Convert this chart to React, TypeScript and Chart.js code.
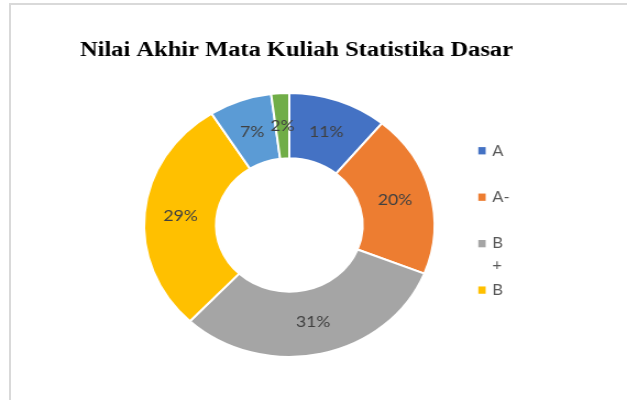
import { useEffect, useRef } from 'react';
import { Chart, registerables } from 'chart.js';

Chart.register(...registerables);

// ---- data ----
const TITLE = 'Nilai Akhir Mata Kuliah Statistika Dasar';
const CATEGORIES = ['A', 'A-', 'B+', 'B', 'B-', 'C+'];
const PERCENTAGES = [11, 20, 31, 29, 7, 2];
const COLORS = ['#4472C4', '#ED7D31', '#A5A5A5', '#FFC000', '#5B9BD5', '#70AD47'];

// ---- layout (canvas units; the whole canvas is stretched horizontally) ----
const STRETCH_X = 1.1;
const CANVAS_W = 570;
const CANVAS_H = 400;

const titlePlugin = {
  id: 'excelTitle',
  afterDraw(chart: any) {
    const ctx = chart.ctx;
    ctx.save();
    ctx.font = 'bold 20px "Liberation Serif"';
    ctx.fillStyle = '#000000';
    ctx.textBaseline = 'alphabetic';
    ctx.textAlign = 'left';
    const w = ctx.measureText(TITLE).width;
    const target = 393.6;
    ctx.translate(72.7, 56);
    ctx.scale(target / w, 1);
    ctx.fillText(TITLE, 0, 0);
    ctx.restore();
  },
};

const sliceLabelPlugin = {
  id: 'sliceLabels',
  afterDatasetsDraw(chart: any) {
    const ctx = chart.ctx;
    const meta = chart.getDatasetMeta(0);
    const values = chart.data.datasets[0].data as number[];
    const total = values.reduce((a, b) => a + b, 0);
    ctx.save();
    ctx.font = '16px Lato';
    ctx.fillStyle = '#404040';
    ctx.textAlign = 'center';
    ctx.textBaseline = 'middle';
    meta.data.forEach((arc: any, i: number) => {
      const p = arc.tooltipPosition();
      const pct = Math.round((values[i] / total) * 100);
      ctx.fillText(pct + '%', p.x, p.y);
    });
    ctx.restore();
  },
};

const LEGEND_X = 434.8;
const LEGEND_TEXT_X = 447.5;
const LEGEND_Y0 = 150.7;
const LEGEND_STEP = 46.45;
const LEGEND_LINE = 22;
const LEGEND_BOTTOM = 315;
const LEGEND_WRAP = 17;

function wrapChars(ctx: CanvasRenderingContext2D, text: string, maxW: number) {
  const lines: string[] = [];
  let cur = '';
  for (const ch of text) {
    if (cur && ctx.measureText(cur + ch).width > maxW) {
      lines.push(cur);
      cur = ch;
    } else cur += ch;
  }
  if (cur) lines.push(cur);
  return lines;
}

const legendPlugin = {
  id: 'sideLegend',
  afterDraw(chart: any) {
    const ctx = chart.ctx;
    const labels = chart.data.labels as string[];
    const colors = chart.data.datasets[0].backgroundColor as string[];
    ctx.save();
    ctx.font = '15px Lato';
    ctx.textAlign = 'left';
    ctx.textBaseline = 'middle';
    labels.forEach((lab, i) => {
      const y = LEGEND_Y0 + i * LEGEND_STEP;
      if (y > LEGEND_BOTTOM) return;
      ctx.fillStyle = colors[i];
      ctx.fillRect(LEGEND_X, y - 3.6, 6.7, 7.3);
      ctx.fillStyle = '#595959';
      const lines = wrapChars(ctx, lab, LEGEND_WRAP);
      lines.forEach((ln, k) => ctx.fillText(ln, LEGEND_TEXT_X, y + k * LEGEND_LINE));
    });
    ctx.restore();
  },
};

export default function App() {
  const ref = useRef<HTMLCanvasElement | null>(null);
  useEffect(() => {
    if (!ref.current) return;
    const chart = new Chart(ref.current, {
      type: 'doughnut',
      data: {
        labels: CATEGORIES,
        datasets: [
          {
            data: PERCENTAGES,
            backgroundColor: COLORS,
            borderColor: '#ffffff',
            borderWidth: 2,
            hoverOffset: 0,
          },
        ],
      },
      options: {
        responsive: false,
        animation: false,
        devicePixelRatio: 1,
        cutout: '50.5%',
        rotation: 0,
        layout: { padding: { left: 130, right: 174, top: 92, bottom: 42 } },
        plugins: {
          legend: { display: false },
          title: { display: false },
          tooltip: { enabled: false },
        },
        events: [],
      },
      plugins: [titlePlugin, sliceLabelPlugin, legendPlugin],
    });
    return () => chart.destroy();
  }, []);

  return (
    <div
      style={{
        position: 'fixed',
        left: 0,
        top: 0,
        width: 627,
        height: 400,
        overflow: 'hidden',
        background: '#ffffff',
      }}
    >
      <div
        style={{
          position: 'absolute',
          left: 9,
          top: 3,
          width: 700,
          height: 500,
          borderTop: '2px solid #d9d9d9',
          borderLeft: '2px solid #d9d9d9',
        }}
      />
      <div
        style={{
          position: 'absolute',
          left: 0,
          top: 0,
          width: CANVAS_W,
          height: CANVAS_H,
          transform: `scaleX(${STRETCH_X})`,
          transformOrigin: '0 0',
        }}
      >
        <canvas ref={ref} width={CANVAS_W} height={CANVAS_H} style={{ display: 'block' }} />
      </div>
    </div>
  );
}
